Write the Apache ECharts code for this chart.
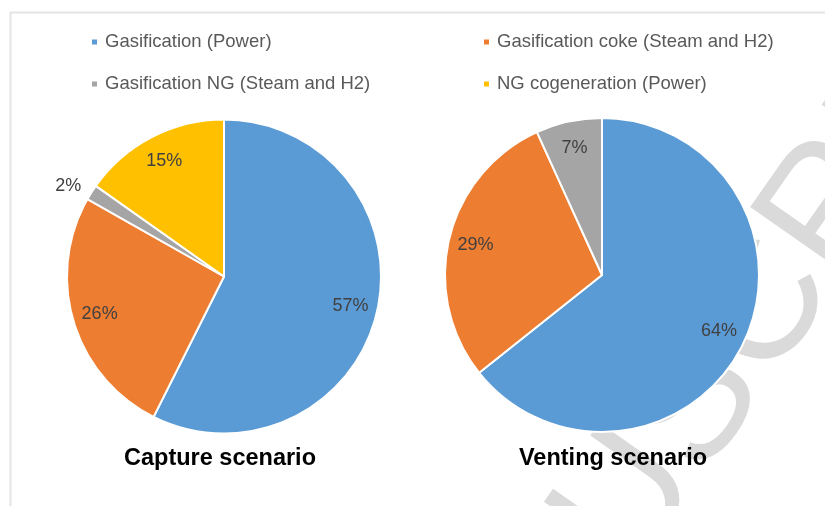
<!DOCTYPE html>
<html>
<head>
<meta charset="utf-8">
<script src="https://cdn.jsdelivr.net/npm/echarts@6/dist/echarts.min.js"></script>
<style>
  html, body { margin: 0; padding: 0; background: #ffffff; }
  #chart { width: 825px; height: 506px; }
</style>
</head>
<body>
<div id="chart"></div>
<script>
// ---- data ----
const categories = [
  'Gasification (Power)',
  'Gasification coke (Steam and H2)',
  'Gasification NG (Steam and H2)',
  'NG cogeneration (Power)'
];
const captureValues = [57.4, 25.8, 1.6, 15.2];
const ventingValues = [64.3, 28.9, 6.8];
const colors = ['#5B9BD5', '#ED7D31', '#A5A5A5', '#FFC000'];
const chartTitles = ['Capture scenario', 'Venting scenario'];
const legendLeftColumn = [categories[0], categories[2]];
const legendRightColumn = [categories[1], categories[3]];
const watermark = 'ACCEPTED MANUSCRIPT';

// ---- build ----
function toData(values) {
  return values.map((v, i) => ({ name: categories[i], value: v, itemStyle: { color: colors[i] } }));
}
const pieR = 157;
const centers = [[224, 276.5], [602, 275]];
const labelFont = { fontFamily: 'Liberation Sans', fontSize: 18, color: '#404040' };

function visiblePie(values, center) {
  return {
    type: 'pie',
    center: center,
    radius: [0, pieR],
    startAngle: 90,
    clockwise: true,
    avoidLabelOverlap: false,
    z: 2,
    itemStyle: { borderColor: '#ffffff', borderWidth: 2 },
    label: Object.assign({
      show: true,
      position: 'outside',
      distanceToLabelLine: 0,
      formatter: p => (p.percent < 5 ? Math.round(p.percent) + '%' : '')
    }, labelFont),
    labelLine: { show: false, length: 12, length2: 0 },
    emphasis: { disabled: true },
    data: toData(values)
  };
}
function labelPie(values, center) {
  return {
    type: 'pie',
    center: center,
    radius: [97, pieR],
    startAngle: 90,
    clockwise: true,
    silent: true,
    z: 3,
    itemStyle: { color: 'rgba(0,0,0,0)', borderWidth: 0 },
    label: Object.assign({
      show: true,
      position: 'inside',
      formatter: p => (p.percent < 5 ? '' : Math.round(p.percent) + '%')
    }, labelFont),
    labelLine: { show: false },
    emphasis: { disabled: true },
    data: values.map((v, i) => ({ name: categories[i], value: v }))
  };
}

const legendCommon = {
  orient: 'vertical',
  top: 32,
  padding: 0,
  itemWidth: 7,
  itemHeight: 7,
  itemGap: 22,
  icon: 'rect',
  selectedMode: false,
  textStyle: { fontFamily: 'Liberation Sans', fontSize: 18.5, color: '#595959', lineHeight: 20, padding: [0, 0, 0, 2] }
};

const option = {
  animation: false,
  backgroundColor: '#ffffff',
  color: colors,
  legend: [
    Object.assign({ left: 90, data: legendLeftColumn }, legendCommon),
    Object.assign({ left: 482, data: legendRightColumn }, legendCommon)
  ],
  title: chartTitles.map((t, i) => ({
    text: t,
    left: i === 0 ? 220 : 613,
    top: 447,
    padding: 0,
    textAlign: 'center',
    textStyle: { fontFamily: 'Liberation Sans', fontSize: 23.5, fontWeight: 'bold', color: '#000000' }
  })),
  graphic: [
    {
      type: 'rect', z: -10, silent: true,
      shape: { x: 10.5, y: 12.5, width: 900, height: 600 },
      style: { fill: 'none', stroke: '#e4e4e4', lineWidth: 2 }
    },
    {
      type: 'text', z: -5, silent: true,
      x: -181, y: 1659, rotation: 55 * Math.PI / 180,
      style: {
        text: watermark,
        font: '170px "Liberation Sans"',
        fill: '#dadada',
        textAlign: 'left', textVerticalAlign: 'middle',
        align: 'left', verticalAlign: 'middle'
      }
    }
  ],
  series: [
    visiblePie(captureValues, centers[0]),
    visiblePie(ventingValues, centers[1]),
    labelPie(captureValues, centers[0]),
    labelPie(ventingValues, centers[1])
  ]
};

const chart = echarts.init(document.getElementById('chart'), null, { renderer: 'canvas' });
chart.setOption(option);
</script>
</body>
</html>
